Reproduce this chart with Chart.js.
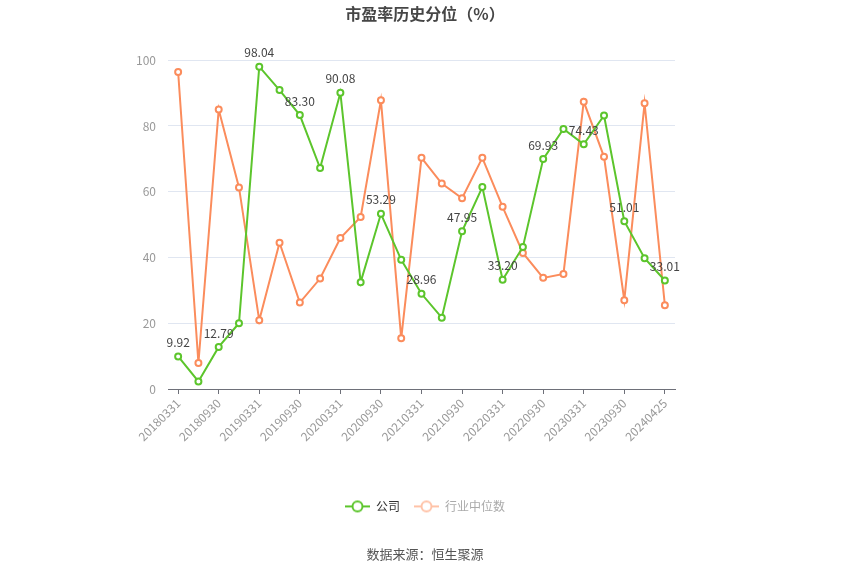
<!DOCTYPE html>
<html>
<head>
<meta charset="utf-8">
<script src="https://cdn.jsdelivr.net/npm/chart.js@4/dist/chart.umd.min.js"></script>
<style>
html,body{margin:0;padding:0;background:#fff;}
#wrap{width:850px;height:575px;position:relative;}
</style>
</head>
<body>
<div id="wrap"><canvas id="c" width="850" height="575"></canvas></div>
<script>
const categories = ["20180331","20180630","20180930","20181231","20190331","20190630","20190930","20191231","20200331","20200630","20200930","20201231","20210331","20210630","20210930","20211231","20220331","20220630","20220930","20221231","20230331","20230630","20230930","20231231","20240425"];
const companyValues = [9.92, 2.3, 12.79, 20.0, 98.04, 90.9, 83.30, 67.2, 90.08, 32.5, 53.29, 39.3, 28.96, 21.7, 47.95, 61.4, 33.20, 43.2, 69.93, 79.1, 74.43, 83.2, 51.01, 39.8, 33.01];
const industryValues = [96.4, 7.9, 85.0, 61.3, 20.9, 44.5, 26.3, 33.6, 45.9, 52.3, 87.8, 15.4, 70.3, 62.5, 58.0, 70.3, 55.4, 41.4, 33.8, 35.0, 87.4, 70.6, 27.0, 86.9, 25.5];
const seriesNames = ["公司", "行业中位数"];
const yTicks = [0, 20, 40, 60, 80, 100];

const FONT = "'Microsoft YaHei', 'Noto Sans CJK SC', sans-serif";
const GREEN = '#5cc52c';
const ORANGE = '#fb8c5c';

function legendIcon(color) {
  const cv = document.createElement('canvas');
  cv.width = 25; cv.height = 14;
  const g = cv.getContext('2d');
  g.strokeStyle = color; g.lineWidth = 2;
  g.beginPath(); g.moveTo(0, 7); g.lineTo(25, 7); g.stroke();
  g.fillStyle = '#fff';
  g.beginPath(); g.arc(12.5, 7, 5, 0, Math.PI * 2); g.fill(); g.stroke();
  return cv;
}
const icons = [legendIcon(GREEN), legendIcon('#ffc3a8')];
const legendTextColors = ['#333', '#aaa'];

const labelPlugin = {
  id: 'valueLabels',
  afterDatasetsDraw(chart) {
    const meta = chart.getDatasetMeta(0);
    const ctx = chart.ctx;
    ctx.save();
    ctx.font = '12px ' + FONT;
    ctx.fillStyle = '#444';
    ctx.textAlign = 'center';
    ctx.textBaseline = 'bottom';
    meta.data.forEach((pt, i) => {
      if (i % 2 !== 0) return;
      ctx.fillText(companyValues[i].toFixed(2), pt.x, pt.y - 8);
    });
    ctx.restore();
  }
};

new Chart(document.getElementById('c'), {
  type: 'line',
  data: {
    labels: categories,
    datasets: [
      {
        label: seriesNames[0], data: companyValues,
        borderColor: GREEN, backgroundColor: '#fff', borderWidth: 2,
        pointRadius: 3, pointBorderWidth: 2, pointBackgroundColor: '#fff', pointBorderColor: GREEN,
        tension: 0
      },
      {
        label: seriesNames[1], data: industryValues,
        borderColor: ORANGE, backgroundColor: '#fff', borderWidth: 2,
        pointRadius: 3, pointBorderWidth: 2, pointBackgroundColor: '#fff', pointBorderColor: ORANGE,
        tension: 0
      }
    ]
  },
  options: {
    responsive: false,
    animation: false,
    layout: { padding: 0 },
    plugins: {
      title: {
        display: true, text: '市盈率历史分位（%）', color: '#464646',
        font: { family: FONT, size: 16, weight: 'bold' },
        padding: { top: 4, bottom: 37 }
      },
      subtitle: {
        display: true, position: 'bottom', text: '数据来源：恒生聚源', color: '#555',
        font: { family: FONT, size: 13, weight: 'normal' },
        padding: { top: 24, bottom: 13 }
      },
      legend: {
        position: 'bottom',
        labels: {
          usePointStyle: true, pointStyleWidth: 25, padding: 14,
          font: { family: FONT, size: 12 },
          generateLabels(chart) {
            return chart.data.datasets.map((d, i) => ({
              text: d.label, pointStyle: icons[i], fontColor: legendTextColors[i],
              strokeStyle: d.borderColor, fillStyle: '#fff', lineWidth: 0, datasetIndex: i, hidden: false
            }));
          }
        }
      },
      tooltip: { enabled: false }
    },
    scales: {
      x: {
        offset: true,
        grid: { display: true, drawOnChartArea: false, offset: false, color: '#6e7079', tickLength: 5 },
        border: { display: true, color: '#6e7079', width: 1 },
        ticks: {
          autoSkip: false, maxRotation: 45, minRotation: 45, color: '#999',
          font: { family: FONT, size: 12 }, padding: 2,
          callback(v, i) { return i % 2 === 0 ? categories[i] : null; }
        },
        afterFit(scale) { scale.height = 97.4; }
      },
      y: {
        min: 0, max: 100,
        afterBuildTicks(scale) { scale.ticks = yTicks.map(v => ({ value: v })); },
        grid: { color: '#e0e6f1', drawTicks: false },
        border: { display: false },
        ticks: { color: '#999', font: { family: FONT, size: 12 }, padding: 12 },
        afterFit(scale) { scale.width = 168; }
      },
      yRight: {
        position: 'right', min: 0, max: 100,
        grid: { display: false, drawTicks: false },
        border: { display: false },
        ticks: { display: false },
        afterFit(scale) { scale.width = 175; }
      }
    }
  },
  plugins: [labelPlugin]
});
</script>
</body>
</html>
